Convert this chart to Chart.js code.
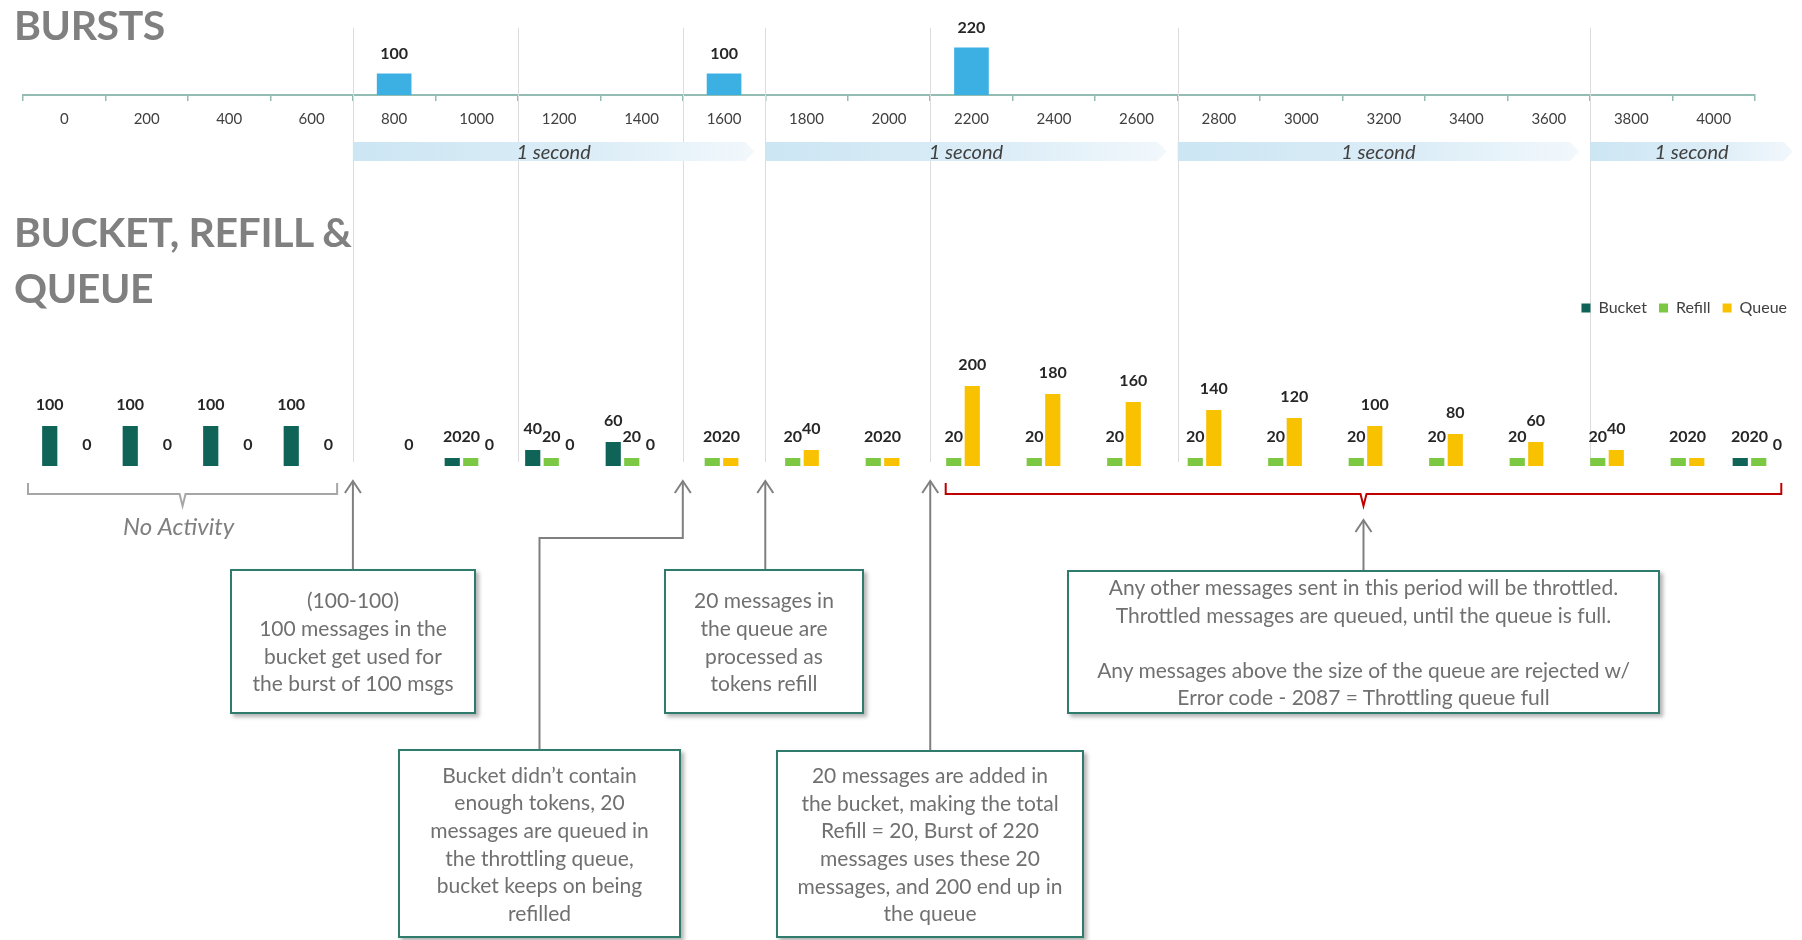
<!DOCTYPE html>
<html>
<head>
<meta charset="utf-8">
<script src="https://cdn.jsdelivr.net/npm/chart.js@4.4.1/dist/chart.umd.min.js"></script>
<style>
  html, body { margin: 0; padding: 0; background: #fff; }
  body { width: 1802px; height: 940px; position: relative; overflow: hidden; font-family: Lato, "Open Sans", sans-serif; }
  canvas { position: absolute; left: 0; top: 0; }
  .title { position: absolute; left: 14px; color: #808080; font-weight: bold; font-size: 41px; line-height: 56px; letter-spacing: -0.4px; }
  .note { position: absolute; box-sizing: border-box; border: 2px solid #2f7b6c; background: #fff;
          box-shadow: 3px 3px 4px rgba(0,0,0,0.3); color: #707070; font-size: 21px; line-height: 27.6px;
          text-align: center; display: flex; align-items: center; justify-content: center; z-index: 5; }
</style>
</head>
<body>

<canvas id="bursts" width="1802" height="940"></canvas>
<canvas id="bucket" width="1802" height="940"></canvas>

<div class="title" style="top:-3px;">BURSTS</div>
<div class="title" style="top:204px;">BUCKET, REFILL &amp;<br>QUEUE</div>

<div class="note" id="n1" style="left:230px; top:569px; width:246px; height:145px;">
  <div>(100-100)<br>100 messages in the<br>bucket get used for<br>the burst of 100 msgs</div>
</div>
<div class="note" id="n2" style="left:664px; top:569px; width:200px; height:145px;">
  <div>20 messages in<br>the queue are<br>processed as<br>tokens refill</div>
</div>
<div class="note" id="n3" style="left:398px; top:749px; width:283px; height:189px;">
  <div>Bucket didn’t contain<br>enough tokens, 20<br>messages are queued in<br>the throttling queue,<br>bucket keeps on being<br>refilled</div>
</div>
<div class="note" id="n4" style="left:776px; top:750px; width:308px; height:188px;">
  <div>20 messages are added in<br>the bucket, making the total<br>Refill = 20, Burst of 220<br>messages uses these 20<br>messages, and 200 end up in<br>the queue</div>
</div>
<div class="note" id="n5" style="left:1067px; top:570px; width:593px; height:144px;">
  <div>Any other messages sent in this period will be throttled.<br>Throttled messages are queued, until the queue is full.<br><br>Any messages above the size of the queue are rejected w/<br>Error code - 2087 = Throttling queue full</div>
</div>

<script>
// time axis (ms) of the bursts chart
let burstTimes = ["0","200","400","600","800","1000","1200","1400","1600","1800","2000",
  "2200","2400","2600","2800","3000","3200","3400","3600","3800","4000"];
let burstValues = [null,null,null,null,100,null,null,null,100,null,null,
  220,null,null,null,null,null,null,null,null,null];

// bucket / refill / queue per step
let steps = ["1","2","3","4","5","6","7","8","9","10","11","12","13","14","15","16","17","18","19","20","21","22"];
let bucketValues = [100,100,100,100,null,20,40,60,null,null,null,null,null,null,null,null,null,null,null,null,null,20];
let refillValues = [null,null,null,null,null,20,20,20,20,20,20,20,20,20,20,20,20,20,20,20,20,20];
let queueValues = [0,0,0,0,0,0,0,0,20,40,20,200,180,160,140,120,100,80,60,40,20,0];

// times where the grey marker lines sit, and where each "1 second" band starts
let markerTimes = [700, 1100, 1500, 1700, 2100, 2700, 3700];
let secondStarts = [700, 1700, 2700, 3700];

let topChart;
let bottomChart;

function timePx(t){
  return topChart.scales.x.getPixelForValue(t / 200);
}

let burstDecor = {
  id: "burstDecor",
  beforeDatasetsDraw: function(chart){
    let ctx = chart.ctx;
    let x = chart.scales.x;
    ctx.save();
    ctx.strokeStyle = "#dcdcdc";
    ctx.lineWidth = 1;
    markerTimes.forEach(function(t){
      let px = Math.round(x.getPixelForValue(t / 200)) + 0.5;
      ctx.beginPath();
      ctx.moveTo(px, 28);
      ctx.lineTo(px, 462);
      ctx.stroke();
    });

    secondStarts.forEach(function(t, i){
      let x0 = x.getPixelForValue(t / 200);
      let x1;
      if(i < secondStarts.length - 1){
        x1 = x.getPixelForValue(secondStarts[i + 1] / 200) - 11;
      }else{
        x1 = chart.width - 9;
      }
      let y0 = 142, y1 = 161, tip = 9;
      let g = ctx.createLinearGradient(x0, 0, x1, 0);
      g.addColorStop(0, "#cce6f3");
      g.addColorStop(0.6, "#dcedf7");
      g.addColorStop(1, "#f2f8fc");
      ctx.fillStyle = g;
      ctx.beginPath();
      ctx.moveTo(x0, y0);
      ctx.lineTo(x1 - tip, y0);
      ctx.lineTo(x1, (y0 + y1) / 2);
      ctx.lineTo(x1 - tip, y1);
      ctx.lineTo(x0, y1);
      ctx.closePath();
      ctx.fill();
      ctx.fillStyle = "#404040";
      ctx.font = "italic 20px Lato";
      ctx.textAlign = "center";
      ctx.textBaseline = "middle";
      ctx.fillText("1 second", (x0 + x1) / 2, (y0 + y1) / 2 + 1);
    });
    ctx.restore();
  },
  afterDatasetsDraw: function(chart){
    let ctx = chart.ctx;
    ctx.save();
    ctx.fillStyle = "#262626";
    ctx.font = "bold 16px Lato";
    ctx.textAlign = "center";
    ctx.textBaseline = "middle";
    chart.getDatasetMeta(0).data.forEach(function(bar, i){
      let v = burstValues[i];
      if(v === null) return;
      ctx.fillText(v, bar.x, bar.y - 20);
    });
    ctx.restore();
  }
};

function arrowHead(ctx, x, y){
  ctx.beginPath();
  ctx.moveTo(x - 8, y + 12);
  ctx.lineTo(x, y);
  ctx.lineTo(x + 8, y + 12);
  ctx.stroke();
}

function bracket(ctx, xa, xb, y, color){
  let mid = (xa + xb) / 2;
  ctx.strokeStyle = color;
  ctx.lineWidth = 2;
  ctx.beginPath();
  ctx.moveTo(xa, y - 11);
  ctx.lineTo(xa, y);
  ctx.lineTo(mid - 3, y);
  ctx.lineTo(mid, y + 12);
  ctx.lineTo(mid + 3, y);
  ctx.lineTo(xb, y);
  ctx.lineTo(xb, y - 11);
  ctx.stroke();
  return mid;
}

let bucketDecor = {
  id: "bucketDecor",
  afterDatasetsDraw: function(chart){
    let ctx = chart.ctx;
    ctx.save();
    ctx.fillStyle = "#262626";
    ctx.font = "bold 16px Lato";
    ctx.textAlign = "center";
    ctx.textBaseline = "middle";
    let series = [bucketValues, refillValues, queueValues];
    series.forEach(function(vals, d){
      chart.getDatasetMeta(d).data.forEach(function(bar, i){
        if(vals[i] === null) return;
        ctx.fillText(vals[i], bar.x, bar.y - 21);
      });
    });
    ctx.restore();
  },
  afterDraw: function(chart){
    let ctx = chart.ctx;
    let sx = chart.scales.x;
    ctx.save();

    // No Activity bracket
    let m1 = bracket(ctx, sx.getPixelForValue(-0.5), sx.getPixelForValue(3.34), 494, "#a6a6a6");
    ctx.fillStyle = "#7f7f7f";
    ctx.font = "italic 24px Lato";
    ctx.textAlign = "center";
    ctx.textBaseline = "middle";
    ctx.fillText("No Activity", m1 - 4, 527);

    // throttled period bracket
    let m2 = bracket(ctx, sx.getPixelForValue(10.9), sx.getPixelForValue(21.28), 494, "#c00000");

    // arrows from the notes
    ctx.strokeStyle = "#808080";
    ctx.lineWidth = 2;
    let n1 = document.getElementById("n1");
    let n2 = document.getElementById("n2");
    let n3 = document.getElementById("n3");
    let n4 = document.getElementById("n4");
    let n5 = document.getElementById("n5");

    let a1 = timePx(700);
    ctx.beginPath(); ctx.moveTo(a1, n1.offsetTop); ctx.lineTo(a1, 481); ctx.stroke();
    arrowHead(ctx, a1, 481);

    let a2 = timePx(1500);
    let c3 = n3.offsetLeft + n3.offsetWidth / 2;
    ctx.beginPath(); ctx.moveTo(c3, n3.offsetTop); ctx.lineTo(c3, 538); ctx.lineTo(a2, 538); ctx.lineTo(a2, 481); ctx.stroke();
    arrowHead(ctx, a2, 481);

    let a3 = timePx(1700);
    ctx.beginPath(); ctx.moveTo(a3, n2.offsetTop); ctx.lineTo(a3, 481); ctx.stroke();
    arrowHead(ctx, a3, 481);

    let a4 = timePx(2100);
    ctx.beginPath(); ctx.moveTo(a4, n4.offsetTop); ctx.lineTo(a4, 481); ctx.stroke();
    arrowHead(ctx, a4, 481);

    ctx.beginPath(); ctx.moveTo(m2, n5.offsetTop); ctx.lineTo(m2, 520); ctx.stroke();
    arrowHead(ctx, m2, 520);

    ctx.restore();
  }
};

topChart = new Chart(document.getElementById("bursts"), {
  type: "bar",
  data: {
    labels: burstTimes,
    datasets: [{
      label: "Bursts",
      data: burstValues,
      backgroundColor: "#3cb0e3",
      barPercentage: 0.42,
      categoryPercentage: 1
    }]
  },
  options: {
    responsive: false,
    animation: false,
    layout: { padding: { top: 26, bottom: 805, left: 23, right: 47 } },
    plugins: { legend: { display: false }, tooltip: { enabled: false } },
    scales: {
      x: {
        afterFit: function(scale){ scale.height = 40; },
        grid: { display: true, drawOnChartArea: false, drawTicks: true, tickLength: 6, color: "#93bdb2", lineWidth: 1.5 },
        border: { display: true, color: "#93bdb2", width: 2 },
        ticks: { color: "#404040", font: { family: "Lato", size: 15 }, padding: 9 }
      },
      y: { display: false, min: 0, max: 320 }
    }
  },
  plugins: [burstDecor]
});

bottomChart = new Chart(document.getElementById("bucket"), {
  type: "bar",
  data: {
    labels: steps,
    datasets: [
      { label: "Bucket", data: bucketValues, backgroundColor: "#0f6357", barPercentage: 0.82, categoryPercentage: 0.69 },
      { label: "Refill", data: refillValues, backgroundColor: "#7cc842", barPercentage: 0.82, categoryPercentage: 0.69 },
      { label: "Queue", data: queueValues, backgroundColor: "#f8c200", barPercentage: 0.82, categoryPercentage: 0.69 }
    ]
  },
  options: {
    responsive: false,
    animation: false,
    layout: { padding: { top: 291, bottom: 474, left: 28, right: 3 } },
    plugins: {
      legend: {
        position: "top",
        align: "end",
        labels: { boxWidth: 9, boxHeight: 9, padding: 12, color: "#404040", font: { family: "Lato", size: 16 } }
      },
      tooltip: { enabled: false }
    },
    scales: {
      x: { display: false },
      y: { display: false, min: 0, max: 350 }
    }
  },
  plugins: [bucketDecor]
});

// keep 0.4 px per message: move the area so its top lands where the scale needs it
let wantTop = 466 - 0.4 * 350;
bottomChart.options.layout.padding.top += wantTop - bottomChart.chartArea.top;
bottomChart.update();
</script>
</body>
</html>
